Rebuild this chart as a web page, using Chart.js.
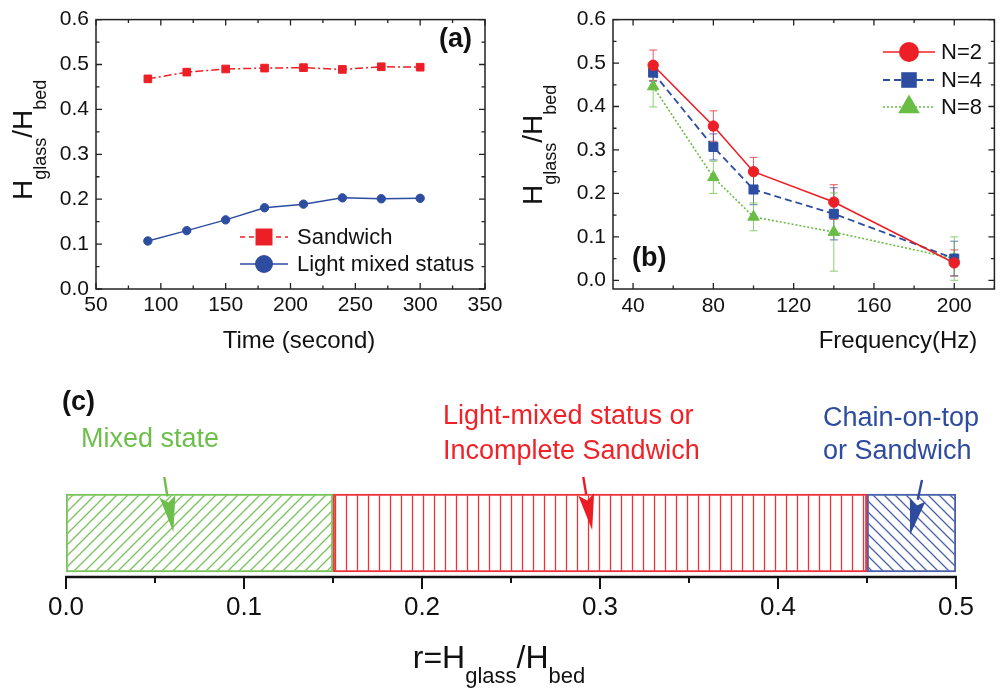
<!DOCTYPE html>
<html>
<head>
<meta charset="utf-8">
<script src="https://cdn.jsdelivr.net/npm/chart.js@4.4.1/dist/chart.umd.min.js"></script>
<style>
  body { margin: 0; background: #fff; }
  #fig { position: relative; width: 1002px; height: 692px; overflow: hidden; font-family: "Liberation Sans", Arial, sans-serif; color: #111; }
  #fig canvas { position: absolute; }
  .t { position: absolute; white-space: nowrap; line-height: 1; }
  .ytitle { font-size: 28px; transform: rotate(-90deg); transform-origin: 0 0; }
  .ytitle .sb { font-size: 18px; vertical-align: -14px; }
  .xtitle { font-size: 24px; transform: translateX(-50%); }
  .panel { font-size: 27px; font-weight: bold; }
  .note { font-size: 27px; }
  .rtitle { font-size: 32px; transform: translateX(-50%); }
  .rtitle .sb { font-size: 22px; vertical-align: -15px; }
</style>
</head>
<body>
<div id="fig">
  <canvas id="chartA" width="520" height="360" style="left:0;top:0"></canvas>
  <canvas id="chartB" width="502" height="360" style="left:500px;top:0"></canvas>
  <canvas id="chartC" width="1002" height="322" style="left:0;top:370px"></canvas>

  <div class="t ytitle" style="left:9px;top:200px">H<span class="sb">glass</span>/H<span class="sb">bed</span></div>
  <div class="t xtitle" style="left:299px;top:328px">Time (second)</div>
  <div class="t panel" style="left:439px;top:25px">(a)</div>

  <div class="t ytitle" style="left:519px;top:205px">H<span class="sb">glass</span>/H<span class="sb">bed</span></div>
  <div class="t xtitle" style="left:898px;top:328px">Frequency(Hz)</div>
  <div class="t panel" style="left:632px;top:244px">(b)</div>

  <div class="t panel" style="left:62px;top:388px">(c)</div>
  <div class="t note" style="left:81px;top:425px;color:#6dbf4b">Mixed state</div>
  <div class="t note" style="left:443px;top:402px;color:#ef2228">Light-mixed status or</div>
  <div class="t note" style="left:443px;top:437px;color:#ef2228">Incomplete Sandwich</div>
  <div class="t note" style="left:823px;top:404px;color:#2e4b9e">Chain-on-top</div>
  <div class="t note" style="left:823px;top:437px;color:#2e4b9e">or Sandwich</div>
  <div class="t rtitle" style="left:499px;top:641px">r=H<span class="sb">glass</span>/H<span class="sb">bed</span></div>
</div>

<script>
// ---- data ----
const timeSec    = [90, 120, 150, 180, 210, 240, 270, 300];
const sandwich   = [0.468, 0.483, 0.490, 0.492, 0.493, 0.489, 0.495, 0.494];
const lightMixed = [0.107, 0.130, 0.154, 0.181, 0.189, 0.203, 0.201, 0.202];

const freqHz = [50, 80, 100, 140, 200];
const n2     = [0.495, 0.355, 0.250, 0.180, 0.040];
const n2Err  = [0.035, 0.035, 0.033, 0.040, 0.030];
const n4     = [0.478, 0.307, 0.209, 0.153, 0.050];
const n4Err  = [0.020, 0.030, 0.035, 0.060, 0.040];
const n8     = [0.446, 0.237, 0.146, 0.111, 0.050];
const n8Err  = [0.047, 0.037, 0.032, 0.090, 0.050];

const regimeNames  = ['Mixed state', 'Light-mixed status or Incomplete Sandwich', 'Chain-on-top or Sandwich'];
const regimeBounds = [[0, 0.15], [0.15, 0.45], [0.45, 0.5]];

const timeTicks  = [50, 100, 150, 200, 250, 300, 350];
const ratioTicks = [0, 0.1, 0.2, 0.3, 0.4, 0.5, 0.6];
const freqTicks  = [40, 80, 120, 160, 200];
const rTicks     = [0, 0.1, 0.2, 0.3, 0.4, 0.5];

const RED = '#ec1f27', BLUE = '#2d4da1', GREEN = '#69bd45';
const FONT = '"Liberation Sans", Arial, sans-serif';
Chart.defaults.font.family = FONT;
Chart.defaults.color = '#111';

const pts = (xs, ys) => xs.map((x, i) => ({ x: x, y: ys[i] }));
const setTicks = arr => s => { s.ticks = arr.map(v => ({ value: v })); };

function drawMarker(ctx, style, x, y, r) {
  ctx.beginPath();
  if (style === 'rect') {
    const h = r / Math.SQRT2;
    ctx.rect(x - h, y - h, 2 * h, 2 * h);
  } else if (style === 'triangle') {
    ctx.moveTo(x, y - r);
    ctx.lineTo(x + r * 0.866, y + r * 0.5);
    ctx.lineTo(x - r * 0.866, y + r * 0.5);
    ctx.closePath();
  } else {
    ctx.arc(x, y, r, 0, Math.PI * 2);
  }
  ctx.fill();
}

// frame with inward ticks on all four sides + legend
const framePlugin = {
  id: 'frame',
  afterDraw(chart, args, o) {
    const { ctx, chartArea: a, scales: { x, y } } = chart;
    ctx.save();
    ctx.strokeStyle = '#222';
    ctx.lineWidth = 1.5;
    ctx.strokeRect(a.left, a.top, a.right - a.left, a.bottom - a.top);

    const minors = (m, s) => {
      const d = m[1] - m[0];
      return [m[0] - d / 2].concat(m.map(v => v + d / 2)).filter(v => v >= s.min - 1e-9 && v <= s.max + 1e-9);
    };
    ctx.lineWidth = 1.3;
    ctx.beginPath();
    [[o.xMajor, 6], [minors(o.xMajor, x), 3.5]].forEach(([vals, len]) => vals.forEach(v => {
      const px = x.getPixelForValue(v);
      ctx.moveTo(px, a.bottom); ctx.lineTo(px, a.bottom - len);
      ctx.moveTo(px, a.top); ctx.lineTo(px, a.top + len);
    }));
    [[o.yMajor, 6], [minors(o.yMajor, y), 3.5]].forEach(([vals, len]) => vals.forEach(v => {
      const py = y.getPixelForValue(v);
      ctx.moveTo(a.left, py); ctx.lineTo(a.left + len, py);
      ctx.moveTo(a.right, py); ctx.lineTo(a.right - len, py);
    }));
    ctx.stroke();

    // legend
    const L = o.legend;
    chart.data.datasets.forEach((ds, i) => {
      const ly = L.ys[i];
      ctx.strokeStyle = ds.borderColor;
      ctx.fillStyle = ds.borderColor;
      ctx.lineWidth = ds.borderWidth;
      ctx.setLineDash(L.dash[i]);
      ctx.beginPath(); ctx.moveTo(L.x0, ly); ctx.lineTo(L.x1, ly); ctx.stroke();
      ctx.setLineDash([]);
      drawMarker(ctx, ds.pointStyle, (L.x0 + L.x1) / 2, ly, L.r[i]);
      ctx.fillStyle = '#111';
      ctx.font = '22px ' + FONT;
      ctx.textBaseline = 'middle';
      ctx.fillText(ds.label, L.tx, ly + 1);
    });
    ctx.restore();
  }
};

const errorBars = {
  id: 'errorBars',
  beforeDatasetsDraw(chart, args, o) {
    const { ctx, scales: { x, y } } = chart;
    ctx.save();
    ctx.lineWidth = 1;
    chart.data.datasets.forEach((ds, i) => {
      ctx.strokeStyle = ds.borderColor;
      ctx.globalAlpha = 0.75;
      ds.data.forEach((p, j) => {
        const e = o.errors[i][j];
        const px = x.getPixelForValue(p.x);
        const t = y.getPixelForValue(p.y + e), b = y.getPixelForValue(p.y - e);
        ctx.beginPath();
        ctx.moveTo(px, t); ctx.lineTo(px, b);
        ctx.moveTo(px - 4, t); ctx.lineTo(px + 4, t);
        ctx.moveTo(px - 4, b); ctx.lineTo(px + 4, b);
        ctx.stroke();
      });
    });
    ctx.restore();
  }
};

const axisBase = (min, max, ticks, pad, extra) => Object.assign({
  type: 'linear', min: min, max: max,
  afterBuildTicks: setTicks(ticks),
  ticks: { font: { size: 21 }, padding: pad, maxRotation: 0, color: '#111' },
  grid: { display: false, drawTicks: false },
  border: { display: false }
}, extra);

// ---- (a) ----
new Chart(document.getElementById('chartA'), {
  type: 'line',
  data: {
    datasets: [
      { label: 'Sandwich', data: pts(timeSec, sandwich), borderColor: RED, backgroundColor: RED,
        borderWidth: 1.5, borderDash: [8, 3, 2, 3], pointStyle: 'rect', pointRadius: 5.4,
        pointBackgroundColor: RED, pointBorderColor: RED, pointBorderWidth: 1 },
      { label: 'Light mixed status', data: pts(timeSec, lightMixed), borderColor: BLUE, backgroundColor: BLUE,
        borderWidth: 1.5, pointStyle: 'circle', pointRadius: 4.2,
        pointBackgroundColor: BLUE, pointBorderColor: BLUE, pointBorderWidth: 1 }
    ]
  },
  options: {
    responsive: false, animation: false, events: [],
    layout: { padding: { left: 0, top: 15, right: 35, bottom: 0 } },
    plugins: {
      legend: { display: false }, tooltip: { enabled: false },
      frame: { xMajor: timeTicks, yMajor: ratioTicks,
        legend: { x0: 240, x1: 288, tx: 297, ys: [237, 264], r: [12, 9], dash: [[5, 4], []] } }
    },
    scales: {
      x: axisBase(50, 350, timeTicks, 4, { afterFit: s => { s.height = 71; } }),
      y: axisBase(0, 0.6, ratioTicks, 7, { afterFit: s => { s.width = 96; },
        ticks: { font: { size: 21 }, padding: 7, color: '#111', callback: v => v.toFixed(1) } })
    }
  },
  plugins: [framePlugin]
});

// ---- (b) ----
new Chart(document.getElementById('chartB'), {
  type: 'line',
  data: {
    datasets: [
      { label: 'N=2', data: pts(freqHz, n2), borderColor: RED, borderWidth: 1.6, pointStyle: 'circle',
        pointRadius: 5.2, pointBackgroundColor: RED, pointBorderColor: RED, pointBorderWidth: 1 },
      { label: 'N=4', data: pts(freqHz, n4), borderColor: BLUE, borderWidth: 1.8, borderDash: [7, 4],
        pointStyle: 'rect', pointRadius: 6.4, pointBackgroundColor: BLUE, pointBorderColor: BLUE, pointBorderWidth: 1 },
      { label: 'N=8', data: pts(freqHz, n8), borderColor: GREEN, borderWidth: 1.6, borderDash: [2, 2],
        pointStyle: 'triangle', pointRadius: 6.6, pointBackgroundColor: GREEN, pointBorderColor: GREEN, pointBorderWidth: 1 }
    ]
  },
  options: {
    responsive: false, animation: false, events: [],
    layout: { padding: { left: 0, top: 15, right: 1, bottom: 0 } },
    plugins: {
      legend: { display: false }, tooltip: { enabled: false },
      errorBars: { errors: [n2Err, n4Err, n8Err] },
      frame: { xMajor: freqTicks, yMajor: ratioTicks,
        legend: { x0: 383, x1: 435, tx: 441, ys: [52, 80, 107], r: [10, 11, 12.5], dash: [[], [7, 4], [2, 2]] } }
    },
    scales: {
      x: axisBase(30, 220, freqTicks, 5, { afterFit: s => { s.height = 71; } }),
      y: axisBase(-0.02, 0.6, ratioTicks, 7, { afterFit: s => { s.width = 113; },
        ticks: { font: { size: 21 }, padding: 7, color: '#111', callback: v => v.toFixed(1) } })
    }
  },
  plugins: [errorBars, framePlugin]
});

// ---- (c) ----
const canvasC = document.getElementById('chartC');
function hatch(color, kind) {
  const s = 11, c = document.createElement('canvas');
  c.width = s; c.height = s;
  const g = c.getContext('2d');
  g.strokeStyle = color; g.lineWidth = 1.3;
  g.beginPath();
  if (kind === '|') {
    g.moveTo(s / 2, 0); g.lineTo(s / 2, s);
  } else if (kind === '/') {
    g.moveTo(0, s); g.lineTo(s, 0);
    g.moveTo(-2, 2); g.lineTo(2, -2);
    g.moveTo(s - 2, s + 2); g.lineTo(s + 2, s - 2);
  } else {
    g.moveTo(0, 0); g.lineTo(s, s);
    g.moveTo(s - 2, -2); g.lineTo(s + 2, 2);
    g.moveTo(-2, s - 2); g.lineTo(2, s + 2);
  }
  g.stroke();
  return canvasC.getContext('2d').createPattern(c, 'repeat');
}
const regimeColors = ['#79c35c', '#f0333a', '#4a62ad'];
const regimeFills = [hatch('#79c35c', '/'), hatch('#f0333a', '|'), hatch('#4a62ad', '\\')];
const arrowColors = ['#6dbf4b', '#ec1c24', '#2e4b9e'];

const axisC = {
  id: 'axisC',
  afterDraw(chart) {
    const { ctx, chartArea: a, scales: { x } } = chart;
    ctx.save();
    ctx.strokeStyle = '#111';
    ctx.lineWidth = 2.6;
    ctx.beginPath();
    ctx.moveTo(x.getPixelForValue(0) - 1, a.bottom);
    ctx.lineTo(x.getPixelForValue(0.5) + 1, a.bottom);
    ctx.stroke();
    ctx.lineWidth = 2;
    ctx.beginPath();
    rTicks.forEach(v => {
      const px = x.getPixelForValue(v);
      ctx.moveTo(px, a.bottom); ctx.lineTo(px, a.bottom + 12);
      if (v < 0.5) {
        const pm = x.getPixelForValue(v + 0.05);
        ctx.moveTo(pm, a.bottom); ctx.lineTo(pm, a.bottom + 6);
      }
    });
    ctx.stroke();
    ctx.restore();
  }
};

// arrows: x in data units, y offsets from top of plot area
const arrowFrom = [0.0552, 0.2906, 0.4809];
const arrowTo   = [0.0603, 0.2956, 0.4742];
const arrowsC = {
  id: 'arrowsC',
  afterDatasetsDraw(chart) {
    const { ctx, chartArea: a, scales: { x } } = chart;
    const dy0 = [-12, -12, -9], dy1 = [43, 41, 46];
    ctx.save();
    arrowFrom.forEach((v, i) => {
      const x0 = x.getPixelForValue(v), y0 = a.top + dy0[i];
      const x1 = x.getPixelForValue(arrowTo[i]), y1 = a.top + dy1[i];
      const ang = Math.atan2(y1 - y0, x1 - x0);
      const hl = 36, hw = 8;
      const bx = x1 - hl * Math.cos(ang), by = y1 - hl * Math.sin(ang);
      ctx.strokeStyle = arrowColors[i];
      ctx.fillStyle = arrowColors[i];
      ctx.lineWidth = 2.4;
      ctx.beginPath(); ctx.moveTo(x0, y0); ctx.lineTo(bx, by); ctx.stroke();
      ctx.beginPath();
      ctx.moveTo(x1, y1);
      ctx.lineTo(bx + hw * Math.sin(ang), by - hw * Math.cos(ang));
      ctx.lineTo(x1 - (hl - 6) * Math.cos(ang), y1 - (hl - 6) * Math.sin(ang));
      ctx.lineTo(bx - hw * Math.sin(ang), by + hw * Math.cos(ang));
      ctx.closePath();
      ctx.fill();
    });
    ctx.restore();
  }
};

new Chart(canvasC, {
  type: 'bar',
  data: {
    labels: ['r'],
    datasets: regimeBounds.map((b, i) => ({
      label: regimeNames[i], data: [b], backgroundColor: regimeFills[i], borderColor: regimeColors[i],
      borderWidth: 1.5, borderSkipped: false, barThickness: 78, grouped: false
    }))
  },
  options: {
    indexAxis: 'y', responsive: false, animation: false, events: [],
    layout: { padding: { left: 66, right: 46, top: 119, bottom: 0 } },
    plugins: { legend: { display: false }, tooltip: { enabled: false } },
    scales: {
      x: { type: 'linear', min: 0, max: 0.5, afterBuildTicks: setTicks(rTicks),
        ticks: { font: { size: 26 }, padding: 15, maxRotation: 0, color: '#111', callback: v => v.toFixed(1) },
        grid: { display: false, drawTicks: false }, border: { display: false },
        afterFit: s => { s.height = 115; } },
      y: { display: false }
    }
  },
  plugins: [axisC, arrowsC]
});
</script>
</body>
</html>
